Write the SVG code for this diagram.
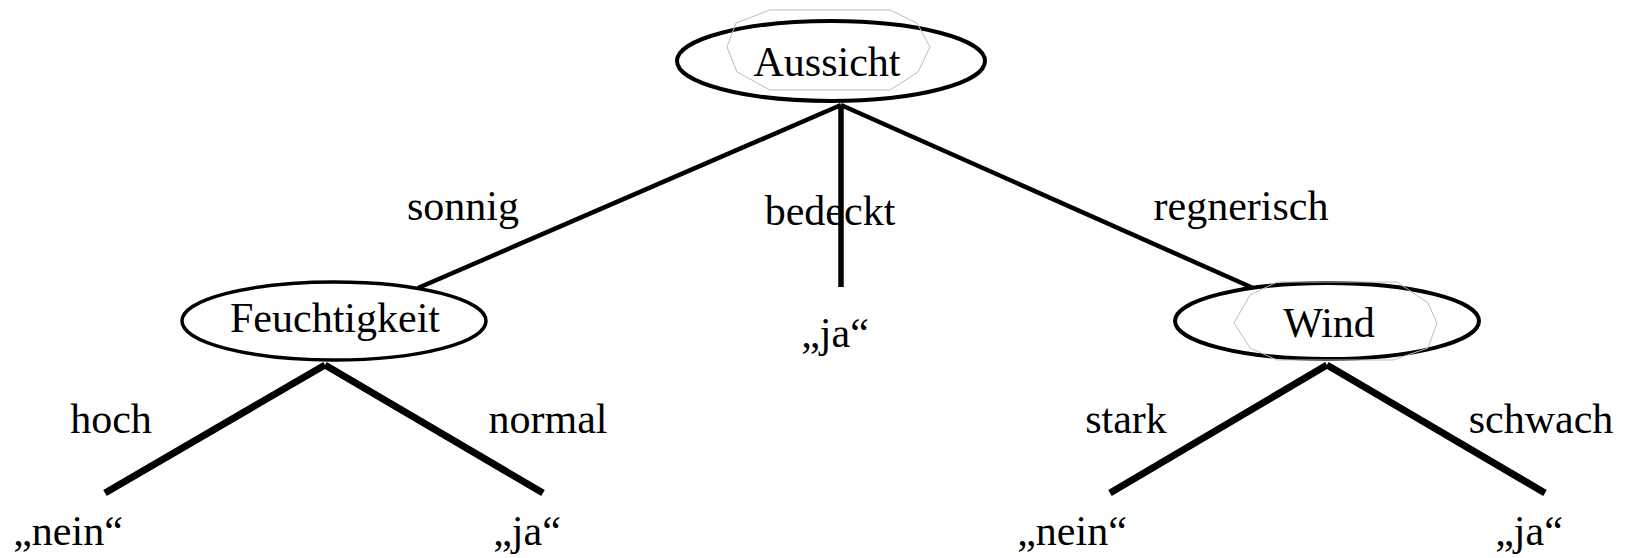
<svg xmlns="http://www.w3.org/2000/svg" width="1631" height="558" viewBox="0 0 1631 558">
<style>
text{font-family:"Liberation Serif","Times New Roman",serif;font-size:42px;fill:#000;text-anchor:middle}
.node{fill:#fff;stroke:#000;stroke-width:4}
.oct{fill:none;stroke:#bbb;stroke-width:1}
.e1{stroke:#000;stroke-width:4.5;fill:none}
.e2{stroke:#000;stroke-width:7;fill:none}
</style>
<rect width="1631" height="558" fill="#fff"/>
<g id="connectors">
<line class="e1" x1="841" y1="105" x2="418" y2="288"/>
<line class="e1" x1="841" y1="105" x2="841" y2="287" style="stroke-width:5.5"/>
<line class="e1" x1="841" y1="105" x2="1253" y2="288"/>
<line class="e2" x1="325" y1="365" x2="105" y2="493"/>
<line class="e2" x1="325" y1="365" x2="543" y2="493"/>
<line class="e2" x1="1327" y1="365" x2="1110" y2="493"/>
<line class="e2" x1="1327" y1="365" x2="1545" y2="493"/>
</g>
<g id="aussicht">
<ellipse class="node" cx="831" cy="61" rx="154" ry="40"/>
<polygon class="oct" points="770,10 890,10 917,23 930,47 918,72 890,90 770,90 737,72 727,47 736,23"/>
<text x="827" y="76">Aussicht</text>
</g>
<g id="feuchtigkeit">
<ellipse class="node" cx="334" cy="321" rx="152" ry="39" style="stroke-width:3.5"/>
<text x="335" y="332">Feuchtigkeit</text>
</g>
<g id="wind">
<ellipse class="node" cx="1327" cy="321" rx="152" ry="38"/>
<polygon class="oct" points="1277,282 1397,282 1428,303 1437,323 1428,348 1393,360 1277,360 1250,348 1234,323 1250,295"/>
<text x="1329" y="337">Wind</text>
</g>
<g id="labels">
<text x="463" y="220">sonnig</text>
<text x="830" y="225">bedeckt</text>
<text x="1241" y="220">regnerisch</text>
<text x="111" y="433">hoch</text>
<text x="548" y="433">normal</text>
<text x="1126" y="433">stark</text>
<text x="1541" y="433">schwach</text>
</g>
<g id="leaf-bedeckt"><text x="835" y="347">„ja“</text></g>
<g id="leaf-hoch"><text x="68" y="545">„nein“</text></g>
<g id="leaf-normal"><text x="527" y="545">„ja“</text></g>
<g id="leaf-stark"><text x="1072" y="545">„nein“</text></g>
<g id="leaf-schwach"><text x="1529" y="545">„ja“</text></g>
</svg>
